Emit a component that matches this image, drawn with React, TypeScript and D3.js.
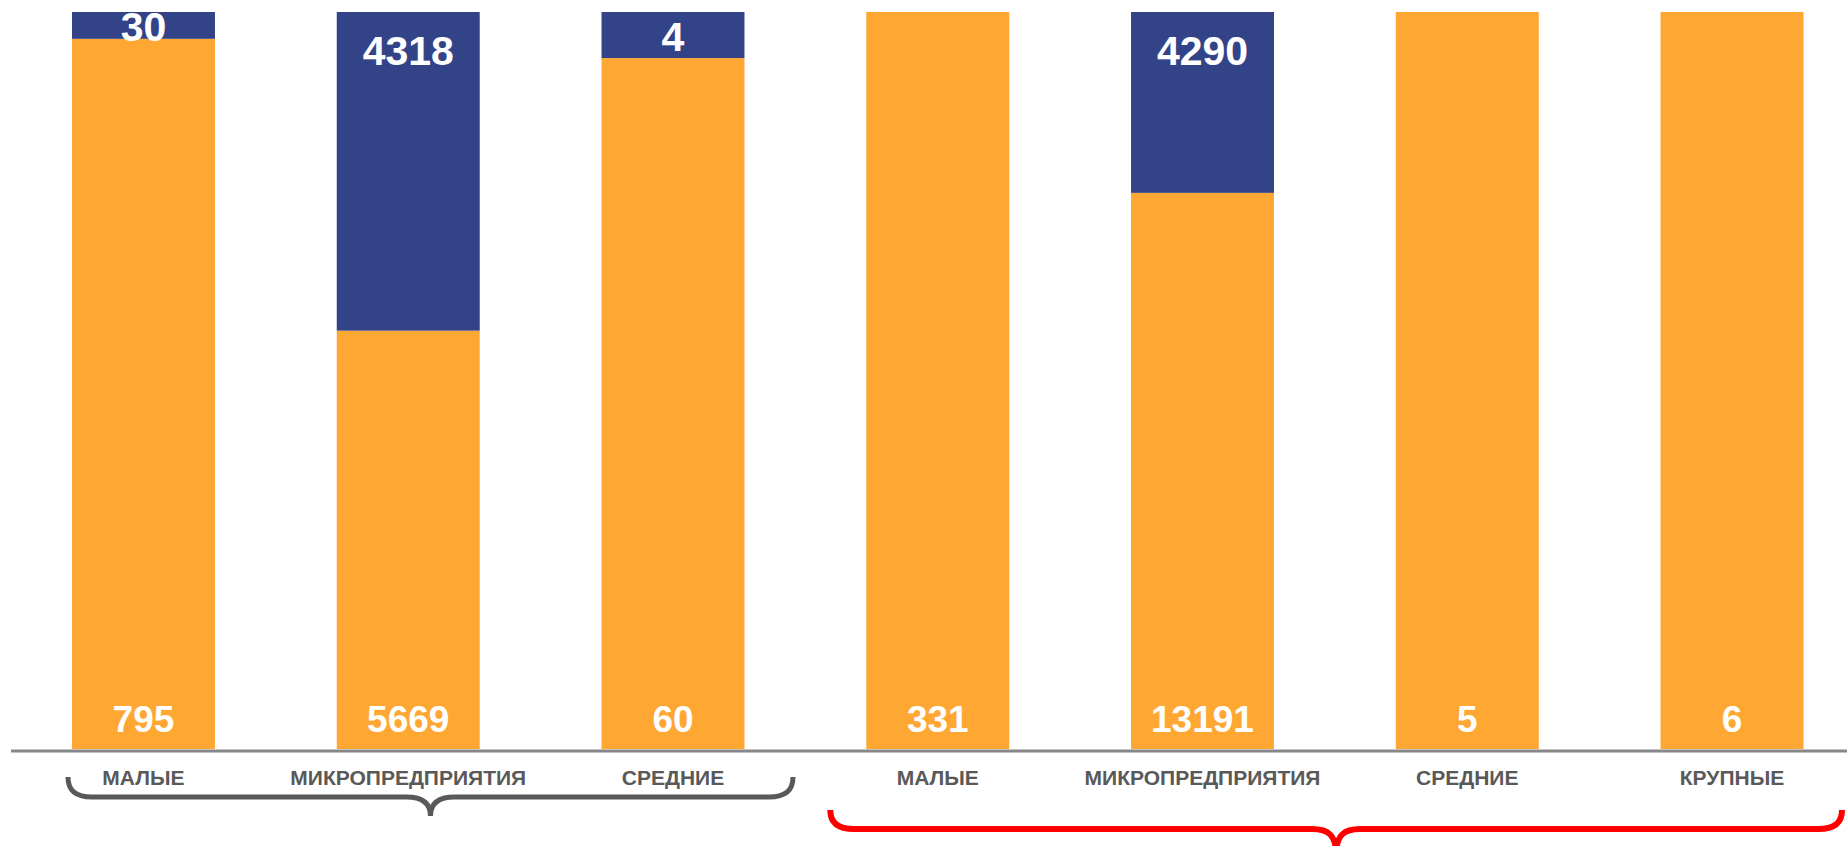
import React from "react";
import * as d3 from "d3";

const categories = ["МАЛЫЕ", "МИКРОПРЕДПРИЯТИЯ", "СРЕДНИЕ", "МАЛЫЕ", "МИКРОПРЕДПРИЯТИЯ", "СРЕДНИЕ", "КРУПНЫЕ"];
const orangeValues = [795, 5669, 60, 331, 13191, 5, 6];
const blueValues = [30, 4318, 4, 0, 4290, 0, 0];
const groupA = [0, 1, 2];
const groupB = [3, 4, 5, 6];

const W = 1847;
const H = 846;
const ORANGE = "#FFA733";
const BLUE = "#334388";
const FONT = "Arial, 'Liberation Sans', sans-serif";

export default function App() {
  const ids = categories.map((_, i) => String(i));
  const x = d3.scaleBand<string>().domain(ids).range([11.1, 1864.4]).paddingInner(0.46).paddingOuter(0.23);
  const y = d3.scaleLinear().domain([0, 1]).range([749, 12]);
  const bw = x.bandwidth();

  const rows = categories.map((c, i) => ({ id: String(i), orange: orangeValues[i], blue: blueValues[i] }));
  const stack = d3.stack<any>().keys(["orange", "blue"]).offset(d3.stackOffsetExpand);
  const series = stack(rows);
  const colors: Record<string, string> = { orange: ORANGE, blue: BLUE };

  const cx = (i: number) => (x(String(i)) as number) + bw / 2;

  const brace = (x0: number, x1: number, yTop: number, yH: number, depth: number, xm: number) => {
    const r = 24;
    return [
      `M${x0},${yTop}`,
      `C${x0},${yH - 6} ${x0 + 8},${yH} ${x0 + r},${yH}`,
      `L${xm - r},${yH}`,
      `C${xm - 8},${yH} ${xm},${yH + 6} ${xm},${yH + depth}`,
      `C${xm},${yH + 6} ${xm + 8},${yH} ${xm + r},${yH}`,
      `L${x1 - r},${yH}`,
      `C${x1 - 8},${yH} ${x1},${yH - 6} ${x1},${yTop}`,
    ].join(" ");
  };

  const gA0 = cx(groupA[0]) - 75.5;
  const gA1 = cx(groupA[groupA.length - 1]) + 120;
  const gB0 = cx(groupB[0]) - 107.5;
  const gB1 = cx(groupB[groupB.length - 1]) + 110;

  return (
    <svg width={W} height={H} style={{ position: "absolute", left: 0, top: 0, background: "#fff" }}>
      <defs>
        <clipPath id="plot">
          <rect x={0} y={12} width={W} height={740} />
        </clipPath>
      </defs>
      <g>
        {series.map((s) =>
          s.map((d, i) => {
            const h = y(d[0]) - y(d[1]);
            if (h <= 0) return null;
            return (
              <rect
                key={s.key + i}
                x={x(String(i))}
                y={y(d[1])}
                width={bw}
                height={h}
                fill={colors[s.key]}
              />
            );
          })
        )}
      </g>
      <g clipPath="url(#plot)" fontFamily={FONT} fontWeight="bold" fill="#fff" textAnchor="middle">
        {series[1].map((d, i) => {
          if (blueValues[i] <= 0) return null;
          const top = y(d[1]);
          const bot = y(d[0]);
          const base = Math.min(top + 53, (top + bot) / 2 + 15.5);
          return (
            <text key={"b" + i} x={cx(i)} y={base} fontSize={41}>
              {blueValues[i]}
            </text>
          );
        })}
        {series[0].map((d, i) => (
          <text key={"o" + i} x={cx(i)} y={y(0) - 17} fontSize={37}>
            {orangeValues[i]}
          </text>
        ))}
      </g>
      <line x1={11} x2={W} y1={751} y2={751} stroke="#878787" strokeWidth={3} />
      <g fontFamily={FONT} fontWeight="bold" fill="#595959" textAnchor="middle" fontSize={21}>
        {categories.map((c, i) => (
          <text key={"c" + i} x={cx(i)} y={785}>
            {c}
          </text>
        ))}
      </g>
      <path d={brace(gA0, gA1, 777, 797, 19, (gA0 + gA1) / 2)} fill="none" stroke="#595959" strokeWidth={5} />
      <path d={brace(gB0, gB1, 810, 829, 26, (gB0 + gB1) / 2)} fill="none" stroke="#FF0000" strokeWidth={6} />
    </svg>
  );
}
